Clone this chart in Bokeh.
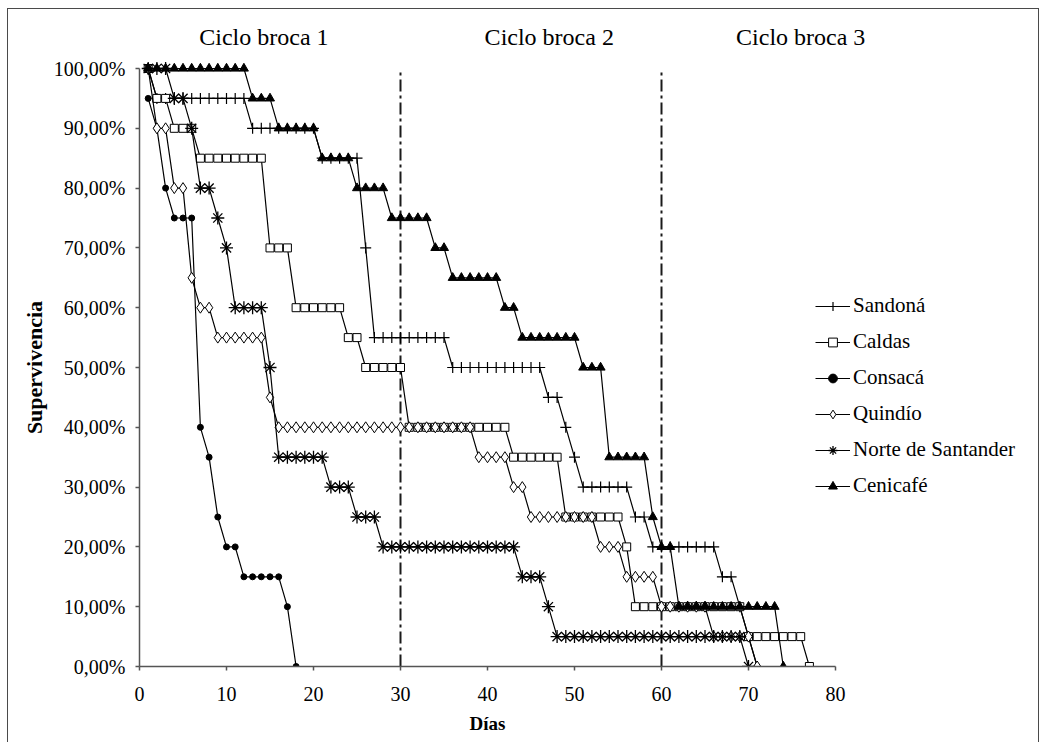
from bokeh.plotting import figure
from bokeh.models import (Range1d, FixedTicker, Legend, LegendItem, Label, Title)
from bokeh.embed import file_html
from bokeh.resources import INLINE

# ---------------- data (survival %, one value per day starting at day 1) ----
sandona = [100,
           95, 95, 95, 95, 95, 95, 95, 95, 95, 95, 95,
           90, 90, 90, 90, 90, 90, 90, 90,
           85, 85, 85, 85, 85,
           70,
           55, 55, 55, 55, 55, 55, 55, 55, 55,
           50, 50, 50, 50, 50, 50, 50, 50, 50, 50, 50,
           45, 45,
           40,
           35,
           30, 30, 30, 30, 30, 30,
           25, 25,
           20, 20, 20, 20, 20, 20, 20, 20,
           15, 15,
           10, 5, 0]

caldas = [100,
          95, 95,
          90, 90, 90,
          85, 85, 85, 85, 85, 85, 85, 85,
          70, 70, 70,
          60, 60, 60, 60, 60, 60,
          55, 55,
          50, 50, 50, 50, 50,
          40, 40, 40, 40, 40, 40, 40, 40, 40, 40, 40, 40,
          35, 35, 35, 35, 35, 35,
          25, 25, 25, 25, 25, 25, 25,
          20,
          10, 10, 10, 10, 10, 10, 10, 10, 10, 10, 10, 10, 10,
          5, 5, 5, 5, 5, 5, 5,
          0]

consaca = [95, 90, 80, 75, 75, 75, 40, 35, 25, 20, 20,
           15, 15, 15, 15, 15, 10, 0]

quindio = [100,
           90, 90,
           80, 80,
           65,
           60, 60,
           55, 55, 55, 55, 55, 55,
           45,
           40, 40, 40, 40, 40, 40, 40, 40, 40, 40, 40, 40, 40, 40, 40, 40,
           40, 40, 40, 40, 40, 40, 40,
           35, 35, 35, 35,
           30, 30,
           25, 25, 25, 25, 25, 25, 25, 25,
           20, 20, 20,
           15, 15, 15, 15,
           10, 10, 10, 10, 10, 10,
           5, 5, 5, 5, 5,
           0]

norte = [100, 100, 100,
         95, 95,
         90,
         80, 80,
         75,
         70,
         60, 60, 60, 60,
         50,
         35, 35, 35, 35, 35, 35,
         30, 30, 30,
         25, 25, 25,
         20, 20, 20, 20, 20, 20, 20, 20, 20, 20, 20, 20, 20, 20, 20, 20,
         15, 15, 15,
         10,
         5, 5, 5, 5, 5, 5, 5, 5, 5, 5, 5, 5, 5, 5, 5, 5, 5, 5, 5, 5, 5, 5,
         0]

cenicafe = [100, 100, 100, 100, 100, 100, 100, 100, 100, 100, 100, 100,
            95, 95, 95,
            90, 90, 90, 90, 90,
            85, 85, 85, 85,
            80, 80, 80, 80,
            75, 75, 75, 75, 75,
            70, 70,
            65, 65, 65, 65, 65, 65,
            60, 60,
            55, 55, 55, 55, 55, 55, 55,
            50, 50, 50,
            35, 35, 35, 35, 35,
            25,
            20, 20,
            10, 10, 10, 10, 10, 10, 10, 10, 10, 10, 10, 10,
            0]

series_names = ["Sandoná", "Caldas", "Consacá", "Quindío",
                "Norte de Santander", "Cenicafé"]
series_values = [sandona, caldas, consaca, quindio, norte, cenicafe]

cycle_bounds = [30, 60]
cycle_titles = ["Ciclo broca 1", "Ciclo broca 2", "Ciclo broca 3"]

x_ticks = [0, 10, 20, 30, 40, 50, 60, 70, 80]
y_ticks = [0, 10, 20, 30, 40, 50, 60, 70, 80, 90, 100]
y_tick_labels = ["0,00%", "10,00%", "20,00%", "30,00%", "40,00%", "50,00%",
                 "60,00%", "70,00%", "80,00%", "90,00%", "100,00%"]
x_title = "Días"
y_title = "Supervivencia"

# ---------------- layout ----------------------------------------------------
FONT = "Liberation Serif"
W, H = 1032, 734            # content size of the bordered figure
LEFT, BOTTOM = 131, 77      # space for the axes
PX_PER_DAY = 8.7
PX_PER_PCT = 5.98
frame_w = W - LEFT
frame_h = H - BOTTOM
x_end = frame_w / PX_PER_DAY
y_end = frame_h / PX_PER_PCT

p = figure(width=W, height=H, output_backend="svg", toolbar_location=None,
           x_range=Range1d(0, x_end), y_range=Range1d(0, y_end),
           min_border_left=LEFT, min_border_right=0,
           min_border_top=0, min_border_bottom=BOTTOM)
p.styles = {"border": "1px solid #4a4a4a", "border-bottom": "none",
            "margin-left": "7px", "margin-top": "8px"}
p.outline_line_color = None
p.xgrid.visible = False
p.ygrid.visible = False
p.background_fill_color = "white"
p.border_fill_color = "white"

for ax in (p.xaxis[0], p.yaxis[0]):
    ax.axis_line_color = "#555555"
    ax.axis_line_width = 1.5
    ax.major_tick_line_color = "#555555"
    ax.major_tick_line_width = 1.5
    ax.major_tick_in = 0
    ax.major_tick_out = 4
    ax.minor_tick_line_color = None
    ax.major_label_text_font = FONT
    ax.major_label_text_font_size = "20px"
    ax.major_label_text_color = "black"

p.xaxis.bounds = (x_ticks[0], x_ticks[-1])
p.yaxis.bounds = (y_ticks[0], y_ticks[-1])
p.xaxis.ticker = FixedTicker(ticks=x_ticks)
p.yaxis.ticker = FixedTicker(ticks=y_ticks)
p.yaxis.major_label_overrides = dict(zip(y_ticks, y_tick_labels))
p.yaxis.major_label_standoff = 10
p.xaxis.major_label_standoff = 16

# axis titles centred on the 0-80 / 0-100 part of the frame
X_TITLE_SIZE, Y_TITLE_SIZE = 19, 22
x_title_w = 1.889 * X_TITLE_SIZE        # approx. bold serif text width
y_title_w = 6.056 * Y_TITLE_SIZE
axis_cx = x_ticks[-1] * PX_PER_DAY / 2
axis_cy = y_ticks[-1] * PX_PER_PCT / 2
p.add_layout(Title(text=x_title, align="left", offset=axis_cx - x_title_w / 2,
                   text_font=FONT, text_font_size=f"{X_TITLE_SIZE}px",
                   text_font_style="bold", text_color="black",
                   standoff=14), "below")
p.add_layout(Title(text=y_title, align="left", offset=axis_cy - y_title_w / 2,
                   text_font=FONT, text_font_size=f"{Y_TITLE_SIZE}px",
                   text_font_style="bold", text_color="black",
                   standoff=8), "left")

# cycle separators
p.segment(x0=cycle_bounds, y0=[y_ticks[0]] * len(cycle_bounds),
          x1=cycle_bounds, y1=[y_ticks[-1]] * len(cycle_bounds),
          line_color="#1a1a1a", line_width=2, line_dash="12 4 3 4")

marker_styles = [
    dict(marker="cross", size=11, line_color="black", line_width=1.2),
    dict(marker="square", size=8, line_color="black", fill_color="white", line_width=1),
    dict(marker="circle", size=6, line_color="black", fill_color="black"),
    dict(marker="diamond", size=11, line_color="black", fill_color="white", line_width=1),
    dict(marker="asterisk", size=13, line_color="black", line_width=1.3),
    dict(marker="triangle", size=9, line_color="black", fill_color="black"),
]

items = []
for name, vals, ms in zip(series_names, series_values, marker_styles):
    days = list(range(1, len(vals) + 1))
    r_line = p.line(days, vals, line_color="black", line_width=1.2)
    r_pts = p.scatter(days, vals, **ms)
    items.append(LegendItem(label=name, renderers=[r_line, r_pts]))

legend = Legend(items=items, location=(676, 168), orientation="vertical",
                glyph_width=35, glyph_height=22, label_height=22,
                spacing=11, label_standoff=3, padding=0, margin=0,
                border_line_color=None, background_fill_alpha=0,
                label_text_font=FONT, label_text_font_size="21px",
                label_text_color="black")
p.add_layout(legend, "center")

title_x = [14.3, 47.1, 76.0]
for tx, tt in zip(title_x, cycle_titles):
    p.add_layout(Label(x=tx, y=105.3, text=tt, text_align="center",
                       text_baseline="middle", text_font=FONT,
                       text_font_size="24px", text_color="black"))

open("out.html", "w").write(file_html(p, INLINE))
